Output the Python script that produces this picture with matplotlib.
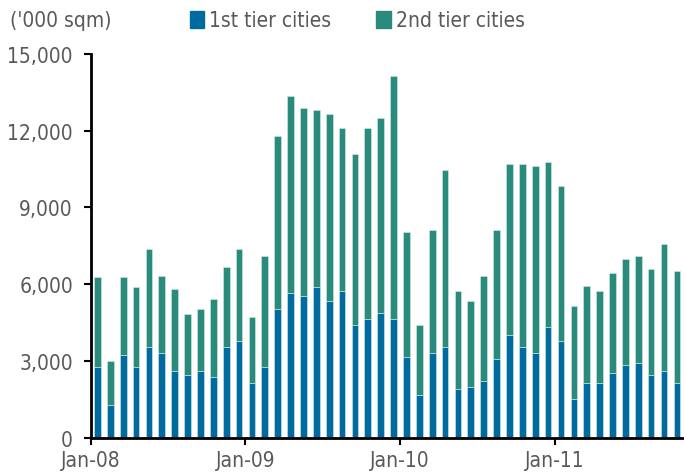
import numpy as np
import matplotlib
matplotlib.use("Agg")
import matplotlib.pyplot as plt
from matplotlib import font_manager as fm
from matplotlib.patches import Patch

# pick a narrow sans face if one is around
narrow = [f for f in fm.fontManager.ttflist
          if f.style == 'normal' and f.weight in (400, 'normal', 'regular')
          and ('Narrow' in f.name or 'Condensed' in f.name
               or 'condensed' in str(f.stretch))]
if narrow:
    plt.rcParams['font.family'] = [narrow[0].name, 'DejaVu Sans']
    plt.rcParams['font.stretch'] = narrow[0].stretch
else:
    plt.rcParams['font.family'] = ['DejaVu Sans']

# monthly land sales, Jan-08 .. Oct-11 ('000 sqm)
tier1 = [2760, 1270, 3220, 2760, 3540, 3300, 2600, 2440, 2600, 2370, 3540, 3770,
         2130, 2760, 5020, 5640, 5560, 5880, 5330, 5720, 4390, 4630, 4860, 4630,
         3150, 1660, 3300, 3540, 1900, 1980, 2210, 3070, 4000, 3540, 3300, 4320,
         3770, 1510, 2130, 2130, 2520, 2830, 2910, 2440, 2600, 2130]
total = [6270, 3000, 6270, 5880, 7360, 6340, 5800, 4850, 5030, 5420, 6660, 7360,
         4720, 7110, 11790, 13340, 12880, 12800, 12650, 12120, 11090, 12120, 12490, 14140,
         8050, 4390, 8110, 10480, 5720, 5330, 6340, 8110, 10700, 10700, 10620, 10780,
         9850, 5160, 5950, 5720, 6420, 6970, 7110, 6580, 7590, 6500]
tier2 = [t - a for t, a in zip(total, tier1)]
year_labels = ['Jan-08', 'Jan-09', 'Jan-10', 'Jan-11']

blue = '#006b9f'
teal = '#2a8b7d'
grey = '#595959'

fig = plt.figure(figsize=(6.84, 4.77), dpi=100)
ax = fig.add_axes([0.133, 0.08, 0.866, 0.805])

x = np.arange(len(tier1)) + 0.5
ax.bar(x, tier1, width=0.52, color=blue, edgecolor='#d4ebe6', linewidth=0.4)
ax.bar(x, tier2, width=0.52, bottom=tier1, color=teal, edgecolor='#d4ebe6', linewidth=0.4)

ax.set_xlim(0, len(tier1))
ax.set_ylim(0, 15000)
ax.set_yticks(range(0, 15001, 3000))
ax.set_yticklabels([f'{v:,}' for v in range(0, 15001, 3000)])
ax.set_xticks([0, 12, 24, 36])
ax.set_xticklabels(year_labels)

for side in ['top', 'right']:
    ax.spines[side].set_visible(False)
for side in ['left', 'bottom']:
    ax.spines[side].set_linewidth(2)
ax.tick_params(axis='both', colors='black', labelcolor=grey, labelsize=15,
               width=1.5, length=5, direction='out')
ax.tick_params(axis='y', pad=8)

fig.text(0.014, 0.955, "('000 sqm)", fontsize=15, color=grey, va='center')
handles = [Patch(color=blue, label='1st tier cities'),
           Patch(color=teal, label='2nd tier cities')]
fig.legend(handles=handles, loc='center left', bbox_to_anchor=(0.262, 0.955),
           ncol=2, frameon=False, fontsize=15, labelcolor=grey,
           handlelength=0.7, handleheight=0.9, handletextpad=0.25,
           columnspacing=2.15, borderpad=0)

fig.savefig('out.png', dpi=100)
